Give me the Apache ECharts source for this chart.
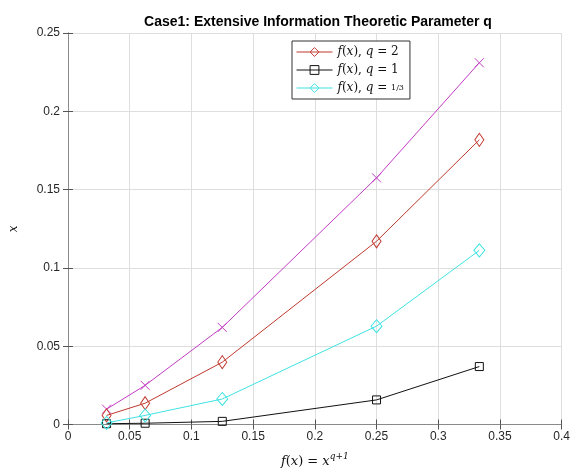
<!DOCTYPE html>
<html>
<head>
<meta charset="utf-8">
<script src="https://cdn.jsdelivr.net/npm/echarts@6/dist/echarts.min.js"></script>
<style>html,body{margin:0;padding:0;background:#fff}#c{width:573px;height:473px}</style>
</head>
<body>
<div id="c"></div>
<script>
const xs = [0.03125, 0.0625, 0.125, 0.25, 0.3333];
const magenta = [0.0098, 0.0250, 0.0620, 0.1575, 0.2310];
const q2 = [0.0058, 0.0136, 0.0398, 0.1170, 0.1818];
const q1 = [0.0005, 0.0008, 0.0020, 0.0157, 0.0370];
const q13 = [0.0010, 0.0058, 0.0163, 0.0628, 0.1112];
const xTicks = [0, 0.05, 0.1, 0.15, 0.2, 0.25, 0.3, 0.35, 0.4];
const yTicks = [0, 0.05, 0.1, 0.15, 0.2, 0.25];

const pair = arr => xs.map((x, i) => [x, arr[i]]);
const serif = 'DejaVu Serif';
const rich = {
  i: {fontFamily: serif, fontStyle: 'italic', fontSize: 12, color: '#111'},
  r: {fontFamily: serif, fontSize: 12, color: '#111'},
  s: {fontFamily: serif, fontSize: 8, color: '#111'}
};
const chart = echarts.init(document.getElementById('c'), null, {renderer: 'canvas'});
const axisLine = {show: true, lineStyle: {color: '#8a8a8a', width: 1}};
const tick = {show: true, inside: true, length: 5, lineStyle: {color: '#555'}};
const lbl = {fontFamily: 'Liberation Sans, Arial', fontSize: 12, color: '#262626'};
function mkSeries(name, data, color, symbol, size) {
  return {
    name, type: 'line', data: pair(data), symbol, symbolSize: size,
    lineStyle: {color, width: 1},
    itemStyle: {color: 'transparent', borderColor: color, borderWidth: 1},
    emphasis: {disabled: true}, animation: false, z: 3
  };
}
chart.setOption({
  animation: false,
  backgroundColor: '#fff',
  title: {
    text: 'Case1: Extensive Information Theoretic Parameter q',
    left: 313, top: 10, textAlign: 'center',
    textStyle: {fontFamily: 'Liberation Sans, Arial', fontWeight: 'bold', fontSize: 14, color: '#000'}
  },
  grid: {left: 63, right: 11, top: 33, bottom: 43, containLabel: false},
  legend: {
    left: 292, top: 41, orient: 'vertical',
    data: ['q2', 'q1', 'q13'],
    backgroundColor: '#fff', borderColor: '#333', borderWidth: 1, borderRadius: 0,
    padding: [5, 6, 5, 4], itemGap: 6, itemWidth: 36, itemHeight: 11,
    selectedMode: false,
    lineStyle: {width: 1},
    itemStyle: {color: 'transparent', borderWidth: 1},
    formatter: function (n) {
      const v = n === 'q2' ? '{r|2}' : n === 'q1' ? '{r|1}' : '{s|1/3}';
      return '{i|f}{r|(}{i|x}{r|), }{i|q}{r| = }' + v;
    },
    textStyle: {rich: rich}
  },
  xAxis: [{
    type: 'value', min: 0, max: 0.4, interval: 0.05,
    axisLine, axisTick: tick,
    axisLabel: Object.assign({margin: 6, formatter: v => {
      const s = xTicks.find(t => Math.abs(t - v) < 1e-9); return s === undefined ? '' : String(s);
    }}, lbl),
    splitLine: {show: true, lineStyle: {color: '#dedede'}},
    name: '{i|f}{r|(}{i|x}{r|) = }{i|x}{sup|q+1}', nameLocation: 'middle', nameGap: 28,
    nameTextStyle: {rich: Object.assign({}, rich, {
      i: {fontFamily: serif, fontStyle: 'italic', fontSize: 13, color: '#111'},
      r: {fontFamily: serif, fontSize: 13, color: '#111'},
      sup: {fontFamily: serif, fontStyle: 'italic', fontSize: 9, color: '#111', padding: [0, 0, 9, 0]}
    })}
  }, {
    type: 'value', position: 'top', min: 0, max: 0.4, interval: 0.05,
    axisLine, axisTick: tick, axisLabel: {show: false}, splitLine: {show: false}
  }],
  yAxis: [{
    type: 'value', min: 0, max: 0.25, interval: 0.05,
    axisLine, axisTick: tick,
    axisLabel: Object.assign({margin: 8, formatter: v => {
      const s = yTicks.find(t => Math.abs(t - v) < 1e-9); return s === undefined ? '' : String(s);
    }}, lbl),
    splitLine: {show: true, lineStyle: {color: '#dedede'}},
    name: 'x', nameLocation: 'middle', nameGap: 48, nameRotate: 90,
    nameTextStyle: {fontFamily: serif, fontStyle: 'italic', fontSize: 12, color: '#111'}
  }, {
    type: 'value', position: 'right', min: 0, max: 0.25, interval: 0.05,
    axisLine, axisTick: tick, axisLabel: {show: false}, splitLine: {show: false}
  }],
  series: [
    mkSeries('mag', magenta, '#c43cc4', 'path://M0,0L10,10M10,0L0,10', 9),
    mkSeries('q2', q2, '#c0392f', 'diamond', [9, 13]),
    mkSeries('q1', q1, '#111111', 'rect', 8),
    mkSeries('q13', q13, '#3fe3e3', 'diamond', [11, 13])
  ]
});
</script>
</body>
</html>
